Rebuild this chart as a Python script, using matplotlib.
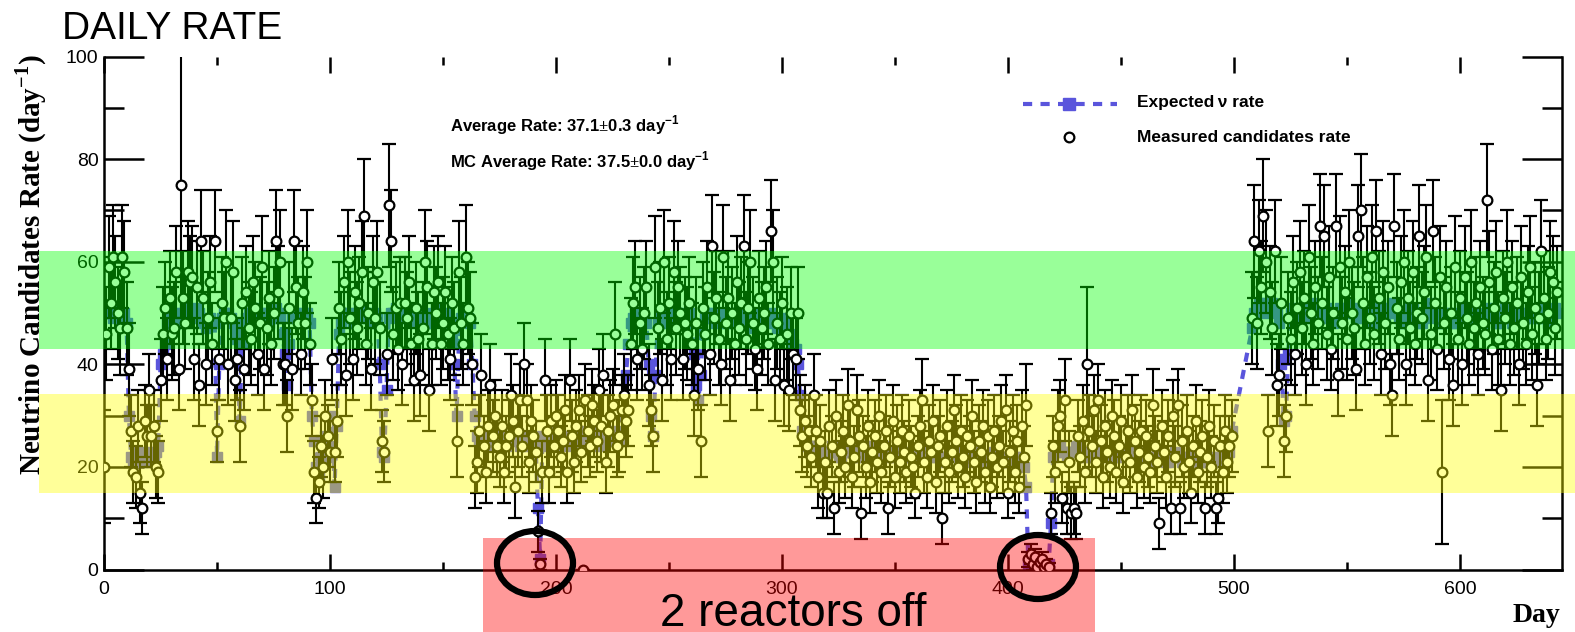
import numpy as np
import matplotlib
matplotlib.use('Agg')
import matplotlib.pyplot as plt
from matplotlib.patches import Rectangle, Ellipse
from matplotlib.lines import Line2D
from matplotlib.ticker import MultipleLocator

plt.rcParams['font.family'] = ['Liberation Sans', 'DejaVu Sans']
plt.rcParams['mathtext.fontset'] = 'custom'
plt.rcParams['mathtext.rm'] = 'Liberation Serif:bold'
plt.rcParams['mathtext.sf'] = 'Liberation Sans:bold'

# daily data, one block per running period
# (first day, measured rate, error, expected rate)
day_a = 0
rate_a = [20, 46, 59, 52, 61, 56, 50, 47, 61, 58, 47, 39]
err_a = [11, 9, 10, 9, 10, 9, 9, 9, 10, 10, 9, 9]
exp_a = [50, 50, 51, 50, 49, 50, 51, 50, 49, 50, 48, 30]

day_b = 12
rate_b = [27, 19, 18, 28, 15, 12, 29, 26, 35, 26, 28, 20, 19]
err_b = [7, 6, 6, 7, 6, 5, 7, 6, 7, 6, 7, 6, 6]
exp_b = [22, 21, 22, 23, 22, 21, 22, 23, 22, 21, 22, 23, 24]

day_c = 25
rate_c = [37, 46, 51, 41, 53, 46, 47, 58, 39, 75, 53, 48, 58, 56, 57, 41, 55, 36, 64, 53,
          40, 49, 56, 44, 64, 27, 41, 52, 49, 60, 40, 49, 58, 37, 41, 28, 52, 39, 54, 47,
          45, 56, 51, 42, 48, 59, 39, 47, 53, 44, 50, 64, 54, 60, 40, 40, 30, 51, 39, 64,
          55, 48, 42, 54, 48, 60, 44, 33]
err_c = [8, 9, 9, 8, 9, 9, 9, 9, 8, 26, 9, 9, 10, 9, 10, 8, 9, 8, 10, 9,
         8, 9, 9, 8, 10, 6, 8, 9, 9, 10, 8, 9, 10, 8, 8, 7, 9, 8, 9, 9,
         9, 9, 9, 8, 9, 10, 8, 9, 9, 8, 9, 10, 9, 10, 8, 8, 7, 9, 8, 10,
         9, 9, 8, 9, 9, 10, 8, 7]
exp_c = [40, 42, 44, 48, 49, 50, 50, 49, 48, 49, 50, 51, 50, 49, 49, 50, 51, 50, 49, 48,
         47, 48, 49, 48, 48, 22, 40, 49, 50, 50, 50, 49, 48, 47, 45, 29, 44, 48, 49, 50,
         50, 51, 50, 49, 49, 50, 50, 49, 48, 49, 50, 51, 50, 49, 46, 42, 36, 44, 49, 50,
         50, 49, 48, 49, 50, 50, 48, 30]

day_d = 93
rate_d = [19, 14, 17, 24, 20, 30, 26, 23, 41, 23, 29]
err_d = [6, 5, 5, 6, 6, 7, 6, 6, 8, 6, 7]
exp_d = [25, 20, 18, 22, 24, 26, 24, 22, 30, 16, 28]

day_e = 104
rate_e = [51, 45, 56, 38, 60, 49, 41, 54, 47, 52, 58, 69, 44, 50, 39, 56, 49, 58, 47, 25,
          23, 42, 71]
err_e = [9, 9, 9, 8, 10, 9, 8, 9, 9, 9, 10, 11, 8, 9, 8, 9, 9, 10, 9, 6, 6, 8, 12]
exp_e = [46, 48, 49, 50, 50, 49, 48, 49, 50, 51, 50, 49, 50, 49, 48, 49, 50, 49, 40, 23,
         22, 35, 49]

day_f = 127
rate_f = [64, 46, 51, 43, 52, 40, 52, 49, 56, 44, 37, 51, 45, 38, 47, 60, 55, 35, 44, 54,
          50, 56, 44, 48, 54, 46, 41, 52, 47, 25, 58, 48, 44, 61, 51, 49, 40]
err_f = [10, 9, 9, 8, 9, 8, 9, 9, 9, 8, 8, 9, 9, 8, 9, 10, 9, 8, 8, 9,
         9, 9, 8, 9, 9, 9, 8, 9, 9, 7, 10, 9, 8, 10, 9, 9, 8]
exp_f = [50, 50, 51, 50, 49, 49, 50, 50, 51, 50, 49, 48, 49, 50, 50, 49, 48, 48, 49, 50,
         51, 50, 49, 49, 50, 49, 48, 45, 40, 30, 44, 49, 50, 50, 49, 48, 40]

day_g = 164
rate_g = [18, 21, 27, 38, 24, 19, 28, 36, 26, 30, 24, 22, 28, 19, 24, 26, 34, 29, 16, 27,
          33, 24, 40, 33, 21, 29, 26, 23]
err_g = [6, 6, 7, 8, 6, 6, 7, 8, 7, 7, 6, 6, 7, 6, 6, 7, 8, 7, 6, 7, 7, 6, 8, 7, 6, 7, 7, 6]
exp_g = [30, 26, 25, 26, 27, 26, 25, 24, 25, 26, 27, 26, 25, 25, 24, 25, 26, 27, 26, 25,
         24, 25, 26, 25, 24, 25, 24, 24]

# both reactors off
day_h = 192
rate_h = [7.5, 1]
err_h = [4, 1]
exp_h = [12, 2]

day_i = 194
rate_i = [19, 37, 27, 19, 29, 24, 30, 27, 22, 25, 31, 19, 37, 26, 21, 28, 31, 23, 0, 33,
          27, 24, 32, 29, 25, 35, 28, 38, 21, 27, 30, 32, 46, 24, 26, 31, 34, 29, 31]
err_i = [6, 8, 7, 6, 7, 6, 7, 7, 6, 6, 7, 6, 8, 7, 6, 7, 7, 6, 0, 7,
         7, 6, 7, 7, 6, 8, 7, 8, 6, 7, 7, 7, 10, 6, 7, 7, 8, 7, 7]
exp_i = [26, 25, 24, 25, 26, 27, 26, 25, 24, 25, 26, 26, 25, 24, 25, 26, 27, 26, 25, 24,
         25, 26, 27, 26, 25, 24, 25, 26, 27, 26, 25, 26, 27, 26, 25, 26, 30, 38, 44]

day_j = 233
rate_j = [44, 52, 55, 41, 48, 43, 50, 55, 36, 31, 26, 59, 47, 51, 37, 60, 45, 52, 41, 58,
          47, 55, 50, 41, 48, 46, 52, 44, 34, 48, 39, 25, 51, 46, 55, 42, 63, 49, 53, 45,
          40, 61, 48, 53, 37, 50, 44, 56, 47, 52, 63, 45, 51, 60, 48, 43, 39, 53, 47, 50,
          55, 44, 66, 60, 37, 48, 45, 52, 36, 46, 35, 50, 42, 41, 50]
err_j = [9, 9, 9, 8, 9, 8, 9, 9, 8, 7, 7, 10, 9, 9, 8, 10, 9, 9, 8, 10,
         9, 9, 9, 8, 9, 9, 9, 8, 8, 9, 8, 7, 9, 9, 9, 8, 10, 9, 9, 9,
         8, 10, 9, 9, 8, 9, 8, 9, 9, 9, 10, 9, 9, 10, 9, 8, 8, 9, 9, 9,
         9, 8, 10, 10, 8, 9, 9, 9, 8, 9, 8, 9, 8, 8, 9]
exp_j = [48, 49, 50, 50, 49, 48, 49, 48, 40, 30, 26, 38, 48, 49, 50, 50, 49, 48, 49, 50,
         50, 49, 48, 49, 50, 49, 50, 48, 42, 36, 33, 38, 46, 49, 50, 50, 49, 48, 49, 50,
         50, 49, 48, 48, 49, 50, 50, 49, 48, 49, 50, 50, 49, 48, 47, 48, 49, 50, 49, 48,
         48, 49, 50, 49, 48, 47, 48, 49, 48, 47, 46, 45, 44, 43, 40]

day_k = 308
rate_k = [31, 26, 29, 24, 27, 22, 34, 27, 18, 25, 15, 21, 15, 28, 24, 12, 30, 19, 23, 27,
          20, 32, 25, 18, 22, 31, 26, 11, 24, 20, 28, 17, 23, 26, 21, 30, 19, 24, 27, 12,
          22, 29, 18, 25, 21, 27, 23, 19, 26, 22, 20, 15, 24, 28, 33, 21, 18, 25, 23, 29,
          17, 24, 26, 10, 21, 28, 19, 23, 31, 25, 20, 27, 22, 18, 26, 24, 30, 21, 17, 25,
          23, 28, 19, 26, 16, 22, 27, 20, 24, 29, 21, 31, 15, 23, 27, 19, 25, 16, 28, 22,
          32]
err_k = [7, 7, 7, 6, 7, 6, 8, 7, 6, 7, 5, 6, 5, 7, 6, 5, 7, 6, 6, 7,
         6, 7, 7, 6, 6, 7, 7, 5, 6, 6, 7, 6, 6, 7, 6, 7, 6, 6, 7, 5,
         6, 7, 6, 7, 6, 7, 6, 6, 7, 6, 6, 5, 6, 7, 8, 6, 6, 7, 6, 7,
         6, 6, 7, 5, 6, 7, 6, 6, 7, 7, 6, 7, 6, 6, 7, 6, 7, 6, 6, 7,
         6, 7, 6, 7, 5, 6, 7, 6, 6, 7, 6, 7, 5, 6, 7, 6, 7, 5, 7, 6,
         8]
exp_k = [34, 27, 25, 24, 24, 23, 24, 24, 23, 23, 23, 22, 23, 23, 24, 23, 23, 22, 22, 23,
         23, 24, 24, 23, 23, 22, 22, 23, 23, 24, 24, 23, 23, 22, 22, 23, 23, 24, 23, 23,
         22, 22, 23, 23, 22, 22, 23, 23, 22, 22, 22, 23, 23, 24, 24, 23, 23, 22, 22, 23,
         23, 22, 22, 21, 22, 22, 23, 23, 22, 22, 22, 23, 23, 22, 22, 21, 22, 22, 23, 23,
         22, 22, 21, 21, 22, 22, 23, 22, 22, 21, 21, 22, 22, 21, 21, 22, 22, 21, 21, 20,
         16]

# both reactors off
day_l = 409
rate_l = [2, 3, 1, 2.5, 0.5, 1.5, 2, 0.5, 1, 0.5]
err_l = [1.5, 2, 1, 1.5, 0.7, 1, 1.5, 0.7, 1, 0.7]
exp_l = [1, 0.8, 0.8, 0.8, 0.8, 0.8, 0.8, 0.8, 0.8, 1]

day_m = 419
rate_m = [11, 24, 19, 28, 30, 14, 33, 12, 21, 11, 12, 11, 26, 22, 29, 19, 40, 27, 24, 31,
          21, 33, 25, 18, 28, 23, 20, 30, 26, 19, 24, 29, 17, 22, 27, 21, 31, 25, 18, 23,
          27, 20, 26, 22, 19, 32, 24, 21, 9, 28, 23, 18, 26, 12, 30, 22, 32, 12, 25, 20,
          27, 21, 15, 24, 29, 19, 23, 26, 12, 22, 28, 20, 25, 12, 14, 24, 19, 27, 21, 24,
          26]
err_m = [4, 6, 6, 7, 7, 5, 8, 5, 6, 5, 5, 5, 7, 6, 7, 6, 15, 7, 6, 7,
         6, 7, 7, 6, 7, 6, 6, 7, 7, 6, 6, 7, 6, 6, 7, 6, 7, 7, 6, 6,
         7, 6, 7, 6, 6, 7, 6, 6, 5, 7, 6, 6, 7, 5, 7, 6, 7, 5, 7, 6,
         7, 6, 6, 6, 7, 6, 6, 7, 5, 6, 7, 6, 7, 5, 5, 6, 6, 7, 6, 6,
         7]
exp_m = [9, 22, 23, 24, 24, 23, 23, 22, 23, 23, 23, 24, 24, 23, 23, 22, 22, 23, 23, 24,
         24, 23, 23, 22, 22, 23, 23, 22, 22, 23, 23, 22, 22, 23, 23, 24, 23, 23, 22, 22,
         23, 23, 22, 22, 21, 22, 22, 23, 23, 22, 22, 21, 21, 22, 22, 23, 22, 22, 21, 21,
         22, 22, 23, 22, 22, 21, 21, 22, 22, 21, 21, 22, 22, 21, 21, 22, 22, 21, 22, 23,
         27]

day_n = 508
rate_n = [49, 64, 48, 62, 55, 69, 60, 27, 54, 47, 62, 36, 38, 52, 25, 30, 49, 45, 56, 42, 51,
          58, 47, 53, 40, 61, 50, 44, 55, 48, 67, 52, 65, 46, 57, 43, 50, 67, 38, 59, 48,
          54, 45, 60, 50, 47, 39, 65, 70, 52, 44, 57, 49, 61, 46, 66, 53, 42, 58, 48, 55,
          40, 34, 67, 51, 45, 56, 60, 40, 53, 47, 58, 44, 50, 65, 49, 54, 61, 37, 46, 66,
          52, 43, 57, 19, 48, 55, 41, 50, 36, 59, 45, 53, 40, 57, 49, 44, 60, 47, 52, 42,
          55, 48, 46, 72, 56, 43, 51, 58, 45, 35, 53, 49, 60, 44, 55, 47, 52, 40, 57, 48,
          44, 54, 59, 46, 51, 36, 49, 62, 53, 45, 50, 58, 56, 47, 54]
err_n = [9, 11, 9, 10, 9, 11, 10, 7, 9, 9, 10, 8, 8, 9, 7, 7, 9, 9, 9, 8, 9,
         10, 9, 9, 8, 10, 9, 8, 9, 9, 10, 9, 10, 9, 10, 8, 9, 10, 8, 10, 9,
         9, 8, 10, 9, 9, 8, 10, 11, 9, 8, 10, 9, 10, 9, 10, 9, 8, 10, 9, 9,
         8, 8, 10, 9, 8, 9, 10, 8, 9, 9, 10, 8, 9, 10, 9, 9, 10, 8, 9, 10,
         9, 8, 10, 14, 9, 9, 8, 9, 8, 10, 9, 9, 8, 10, 9, 8, 10, 9, 9, 8,
         9, 9, 8, 11, 10, 8, 9, 10, 9, 8, 9, 9, 10, 8, 9, 9, 9, 8, 10, 9,
         8, 9, 10, 9, 9, 8, 9, 10, 9, 8, 9, 10, 9, 9, 9]
exp_n = [47, 50, 51, 52, 52, 51, 50, 51, 52, 52, 51, 50, 48, 40, 29, 30, 42, 50, 51, 50, 49,
         50, 51, 50, 49, 50, 51, 52, 51, 50, 49, 49, 50, 51, 50, 49, 48, 49, 50, 51, 50,
         50, 51, 52, 51, 50, 49, 49, 50, 51, 51, 50, 49, 48, 49, 50, 51, 51, 50, 49, 50,
         51, 52, 51, 50, 49, 48, 48, 49, 50, 51, 51, 50, 49, 48, 48, 49, 50, 51, 52, 51,
         50, 49, 48, 48, 49, 50, 50, 49, 48, 48, 49, 50, 51, 50, 49, 48, 49, 50, 50, 49,
         48, 48, 49, 50, 51, 50, 49, 48, 48, 49, 50, 51, 50, 49, 48, 49, 50, 50, 49, 48,
         49, 50, 51, 50, 49, 49, 50, 51, 50, 49, 48, 49, 50, 51, 50]

blocks = [
    (day_a, rate_a, err_a, exp_a), (day_b, rate_b, err_b, exp_b),
    (day_c, rate_c, err_c, exp_c), (day_d, rate_d, err_d, exp_d),
    (day_e, rate_e, err_e, exp_e), (day_f, rate_f, err_f, exp_f),
    (day_g, rate_g, err_g, exp_g), (day_h, rate_h, err_h, exp_h),
    (day_i, rate_i, err_i, exp_i), (day_j, rate_j, err_j, exp_j),
    (day_k, rate_k, err_k, exp_k), (day_l, rate_l, err_l, exp_l),
    (day_m, rate_m, err_m, exp_m), (day_n, rate_n, err_n, exp_n),
]

days = np.concatenate([d0 + np.arange(len(r)) for d0, r, e, x in blocks])
rate = np.concatenate([r for d0, r, e, x in blocks]).astype(float)
err = np.concatenate([e for d0, r, e, x in blocks]).astype(float)
expected = np.concatenate([x for d0, r, e, x in blocks]).astype(float)

W, H = 1575, 632
BLUE = '#5a55dc'


def fx(px):
    return px / W


def fy(py):
    return 1 - py / H


fig = plt.figure(figsize=(W / 100, H / 100), dpi=100)
ax = fig.add_axes([fx(104), fy(569.5), fx(1561.7) - fx(104), fy(56.5) - fy(569.5)])

ax.plot(days, expected, color=BLUE, lw=3, ls=(0, (2.2, 2.0)), marker='s', ms=7.5,
        mfc=BLUE, mec=BLUE, zorder=2)
ax.errorbar(days, rate, yerr=err, fmt='o', ms=7, mfc='white', mec='black', mew=1.6,
            ecolor='black', elinewidth=1.5, capsize=5, capthick=1.5, zorder=3)

ax.set_xlim(0, 645)
ax.set_ylim(0, 100)
ax.xaxis.set_major_locator(MultipleLocator(100))
ax.xaxis.set_minor_locator(MultipleLocator(50))
ax.yaxis.set_major_locator(MultipleLocator(20))
ax.yaxis.set_minor_locator(MultipleLocator(10))
ax.tick_params(axis='both', which='both', direction='in', top=True, right=True,
               width=1.8, labelsize=14)
ax.tick_params(axis='y', which='major', length=28.8, pad=4)
ax.tick_params(axis='y', which='minor', length=14.4)
ax.tick_params(axis='x', which='major', length=11.5, pad=8)
ax.tick_params(axis='x', which='minor', length=5.8)
ax.spines['top'].set_visible(False)
for s in ['left', 'right', 'bottom']:
    ax.spines[s].set_linewidth(1.8)

# statistics box
ax.text(fx(450), fy(125), r'Average Rate: 37.1$\pm$0.3 day$^{\mathsf{-1}}$',
        transform=fig.transFigure, fontsize=12, fontweight='bold', va='center')
ax.text(fx(450), fy(161), r'MC Average Rate: 37.5$\pm$0.0 day$^{\mathsf{-1}}$',
        transform=fig.transFigure, fontsize=12, fontweight='bold', va='center')

# legend
fig.add_artist(Line2D([fx(1023), fx(1117)], [fy(104), fy(104)], color=BLUE, lw=3,
                      ls=(0, (2.2, 2.0)), transform=fig.transFigure, zorder=4))
fig.add_artist(Line2D([fx(1069)], [fy(104)], color=BLUE, marker='s', ms=8.5, lw=0,
                      transform=fig.transFigure, zorder=4))
fig.add_artist(Line2D([fx(1069)], [fy(137)], marker='o', ms=7, mfc='white', mec='black',
                      mew=1.6, lw=0, transform=fig.transFigure, zorder=4))
fig.text(fx(1137), fy(103), 'Expected\u2009\u03bd rate', fontsize=12.5, fontweight='bold',
         va='center', family=['Liberation Sans', 'DejaVu Sans'])
fig.text(fx(1137), fy(137), 'Measured candidates rate', fontsize=12.5, fontweight='bold',
         va='center')

# axis titles
fig.text(fx(31), fy(265), r'Neutrino Candidates Rate (day$^{\mathrm{-1}}$)', rotation=90,
         ha='center', va='center', fontsize=21, fontweight='bold', family='Liberation Serif')
fig.text(fx(1560), fy(622), 'Day', ha='right', va='baseline', fontsize=20,
         fontweight='bold', family='Liberation Serif')
fig.text(fx(62), fy(39), 'DAILY RATE', fontsize=28, va='baseline')

# overlays: bands, off-period box, circles
fig.add_artist(Rectangle((fx(39), fy(349)), fx(1575) - fx(39), fy(251) - fy(349),
                         transform=fig.transFigure, color='#00ff00', alpha=0.4, lw=0, zorder=5))
fig.add_artist(Rectangle((fx(39), fy(493)), fx(1575) - fx(39), fy(394) - fy(493),
                         transform=fig.transFigure, color='#ffff00', alpha=0.4, lw=0, zorder=5))
fig.add_artist(Rectangle((fx(483), fy(632)), fx(1095) - fx(483), fy(538) - fy(632),
                         transform=fig.transFigure, color='#ff0000', alpha=0.4, lw=0, zorder=5))
fig.text(fx(793), fy(626), '2 reactors off', ha='center', va='baseline', fontsize=33,
         zorder=6)
for cx, cy in [(535, 563), (1038, 567)]:
    fig.add_artist(Ellipse((fx(cx), fy(cy)), fx(76), 64 / H, transform=fig.transFigure,
                           fill=False, ec='black', lw=4.5, zorder=7))

fig.savefig('out.png', dpi=100)
